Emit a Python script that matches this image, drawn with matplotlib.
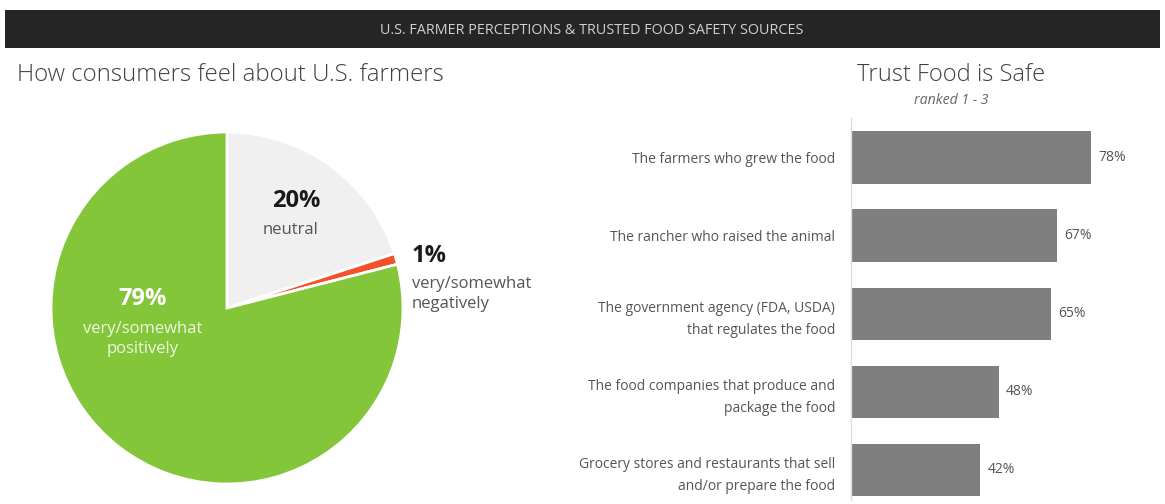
import matplotlib.pyplot as plt
from matplotlib.patches import Rectangle

plt.rcParams['font.family'] = ['Open Sans', 'DejaVu Sans']

# Pie data (clockwise from 12 o'clock)
pie_labels = ['neutral', 'very/somewhat negatively', 'very/somewhat positively']
pie_values = [20, 1, 79]
pie_colors = ['#f0f0f0', '#f4502a', '#84c63a']

# Bar data
sources = [
    'The farmers who grew the food',
    'The rancher who raised the animal',
    'The government agency (FDA, USDA)\nthat regulates the food',
    'The food companies that produce and\npackage the food',
    'Grocery stores and restaurants that sell\nand/or prepare the food',
]
trust = [78, 67, 65, 48, 42]

W, H = 1165, 504
fig = plt.figure(figsize=(W / 100, H / 100), dpi=100)


def px(x, y):
    # pixel position (from top-left) to figure fraction
    return x / W, 1 - y / H


# header bar
fig.patches.append(Rectangle(px(5, 48), 1155 / W, 38 / H, transform=fig.transFigure,
                             facecolor='#252525', edgecolor='none', zorder=0))
fig.text(*px(592, 30), 'U.S. FARMER PERCEPTIONS & TRUSTED FOOD SAFETY SOURCES',
         color='#d0d0d0', fontsize=10.4, ha='center', va='center')

# titles
fig.text(*px(17, 75), 'How consumers feel about U.S. farmers', fontsize=17.3,
         color='#404040', ha='left', va='center', fontweight='light')
fig.text(*px(951, 75), 'Trust Food is Safe', fontsize=17.1,
         color='#404040', ha='center', va='center', fontweight='light')
fig.text(*px(951, 100), 'ranked 1 - 3', fontsize=10.2, style='italic',
         color='#666666', ha='center', va='center')

# pie
cx, cy, r = 227, 308, 176
ax_pie = fig.add_axes([(cx - r) / W, (H - cy - r) / H, 2 * r / W, 2 * r / H])
ax_pie.pie(pie_values, colors=pie_colors, startangle=90, counterclock=False,
           radius=1, wedgeprops=dict(edgecolor='white', linewidth=2))
ax_pie.set_xlim(-1, 1)
ax_pie.set_ylim(-1, 1)
ax_pie.set_aspect('equal')
ax_pie.axis('off')

fig.text(*px(296, 201), f'{pie_values[0]}%', fontsize=17, fontweight='bold',
         color='#1a1a1a', ha='center', va='center')
fig.text(*px(291, 230), 'neutral', fontsize=12, color='#555555',
         ha='center', va='center')
fig.text(*px(412, 256), f'{pie_values[1]}%', fontsize=17, fontweight='bold',
         color='#1a1a1a', ha='left', va='center')
fig.text(*px(412, 294), 'very/somewhat\nnegatively', fontsize=12, color='#555555',
         ha='left', va='center', linespacing=1.25)
fig.text(*px(143, 299), f'{pie_values[2]}%', fontsize=17, fontweight='bold',
         color='white', ha='center', va='center')
fig.text(*px(143, 339), 'very/somewhat\npositively', fontsize=12, color='#eef7e2',
         ha='center', va='center', linespacing=1.35)

# bars
x0, x1 = 851, 1159
y0, y1 = 118, 500
ax = fig.add_axes([x0 / W, (H - y1) / H, (x1 - x0) / W, (y1 - y0) / H])
ypos = list(range(len(sources)))
ax.barh(ypos, trust, height=0.67, color='#7f7f7f')
ax.set_xlim(0, 100)
ax.set_ylim(4.385, -0.506)
ax.set_yticks(ypos)
ax.set_yticklabels(sources, fontsize=10, color='#555555', linespacing=1.62)
ax.tick_params(axis='y', length=0, pad=11.5)
ax.set_xticks([])
for s in ['top', 'right', 'bottom']:
    ax.spines[s].set_visible(False)
ax.spines['left'].set_color('#dddddd')
ax.spines['left'].set_linewidth(1)
for yi, v in zip(ypos, trust):
    ax.text(v + 2.3, yi, f'{v}%', fontsize=10, color='#555555', va='center', ha='left')

fig.savefig('out.png', dpi=100, facecolor='white')
